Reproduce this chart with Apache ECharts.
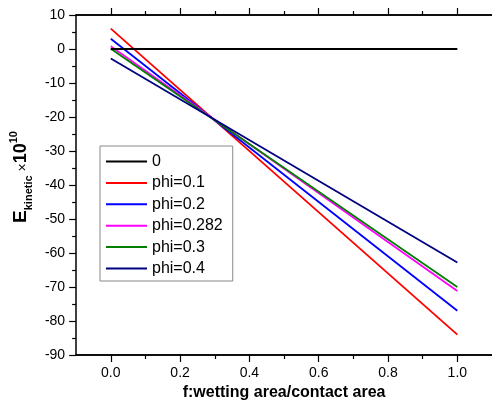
<!DOCTYPE html>
<html>
<head>
<meta charset="utf-8">
<script src="https://cdn.jsdelivr.net/npm/echarts@6/dist/echarts.min.js"></script>
<style>html,body{margin:0;padding:0;background:#fff;}#c{width:492px;height:406px;}</style>
</head>
<body>
<div id="c"></div>
<script>
// f values (x) and kinetic energy values (x 10^10)
const fValues = [0, 1];
const seriesNames = ['0', 'phi=0.1', 'phi=0.2', 'phi=0.282', 'phi=0.3', 'phi=0.4'];
const phi0 = [0, 0];
const phi01 = [6, -84];
const phi02 = [3, -77];
const phi0282 = [0.8, -71.2];
const phi03 = [0.1, -70];
const phi04 = [-2.8, -62.8];
const seriesColors = ['#000000', '#ff0000', '#0000ff', '#ff00ff', '#008000', '#000080'];
const xMajorTicks = [0, 0.2, 0.4, 0.6, 0.8, 1.0];
const xMinorTicks = [0.1, 0.3, 0.5, 0.7, 0.9];

const allValues = [phi0, phi01, phi02, phi0282, phi03, phi04];
const font = 'Liberation Sans, Arial, sans-serif';

function xAxisBase(pos, ticks, len, showLabel) {
  return {
    type: 'value', min: -0.1, max: 1.1, position: pos, offset: 0,
    axisLine: { show: true, onZero: false, lineStyle: { color: '#000', width: 1.5 } },
    axisTick: { show: true, customValues: ticks, length: len, inside: false, lineStyle: { color: '#000', width: 1.2 } },
    axisLabel: showLabel ? { show: true, customValues: ticks, margin: 11, color: '#000', fontSize: 14, fontFamily: font,
      formatter: v => v.toFixed(1) } : { show: false },
    splitLine: { show: false }
  };
}

const chart = echarts.init(document.getElementById('c'), null, { renderer: 'canvas' });
const xAxes = [
  Object.assign(xAxisBase('bottom', xMajorTicks, 7, true), {
    name: 'f:wetting area/contact area', nameLocation: 'middle', nameGap: 30,
    nameTextStyle: { fontSize: 16, fontWeight: 'bold', color: '#000', fontFamily: font }
  }),
  xAxisBase('bottom', xMinorTicks, 4, false),
  xAxisBase('top', xMajorTicks, 7, false),
  xAxisBase('top', xMinorTicks, 4, false)
];

chart.setOption({
  animation: false,
  backgroundColor: '#fff',
  grid: { left: 75, top: 15, width: 427, height: 344, containLabel: false },
  xAxis: xAxes,
  yAxis: {
    type: 'value', min: -90, max: 10, interval: 10,
    axisLine: { show: true, onZero: false, lineStyle: { color: '#000', width: 1.5 } },
    axisTick: { show: true, length: 7, inside: false, lineStyle: { color: '#000', width: 1.2 } },
    minorTick: { show: true, splitNumber: 2, length: 4, lineStyle: { color: '#000', width: 1.2 } },
    axisLabel: { margin: 11, color: '#000', fontSize: 14, fontFamily: font },
    splitLine: { show: false },
    name: '{E|E}{sub|kinetic}{x| ×}{ten|10}{sup|10}',
    nameLocation: 'middle', nameRotate: 90, nameGap: 44,
    nameTextStyle: {
      fontFamily: font, color: '#000', padding: [0, 0, 0, 16],
      rich: {
        E: { fontSize: 19, fontWeight: 'bold', fontFamily: font, color: '#000', verticalAlign: 'bottom', lineHeight: 22 },
        sub: { fontSize: 11, fontWeight: 'bold', fontFamily: font, color: '#000', verticalAlign: 'bottom', lineHeight: 14, padding: [0, 0, -4, 0] },
        x: { fontSize: 14, fontFamily: font, color: '#000', verticalAlign: 'bottom', lineHeight: 22 },
        ten: { fontSize: 18, fontWeight: 'bold', fontFamily: font, color: '#000', verticalAlign: 'bottom', lineHeight: 22 },
        sup: { fontSize: 11, fontWeight: 'bold', fontFamily: font, color: '#000', verticalAlign: 'top', lineHeight: 14 }
      }
    }
  },
  legend: {
    orient: 'vertical', left: 100, top: 146,
    padding: [7, 10, 4, 6],
    icon: 'rect',
    itemWidth: 41, itemHeight: 2, itemGap: 4.4,
    borderColor: '#888', borderWidth: 1, backgroundColor: '#fff',
    textStyle: { fontSize: 16, fontFamily: font, color: '#000', lineHeight: 17 },
    data: seriesNames
  },
  series: seriesNames.map((n, i) => ({
    name: n, type: 'line', xAxisIndex: 0,
    data: fValues.map((f, j) => [f, allValues[i][j]]),
    symbol: 'none', showSymbol: false,
    lineStyle: { color: seriesColors[i], width: 1.8 },
    itemStyle: { color: seriesColors[i] },
    z: i === 0 ? 3 : 2
  }))
});
</script>
</body>
</html>
